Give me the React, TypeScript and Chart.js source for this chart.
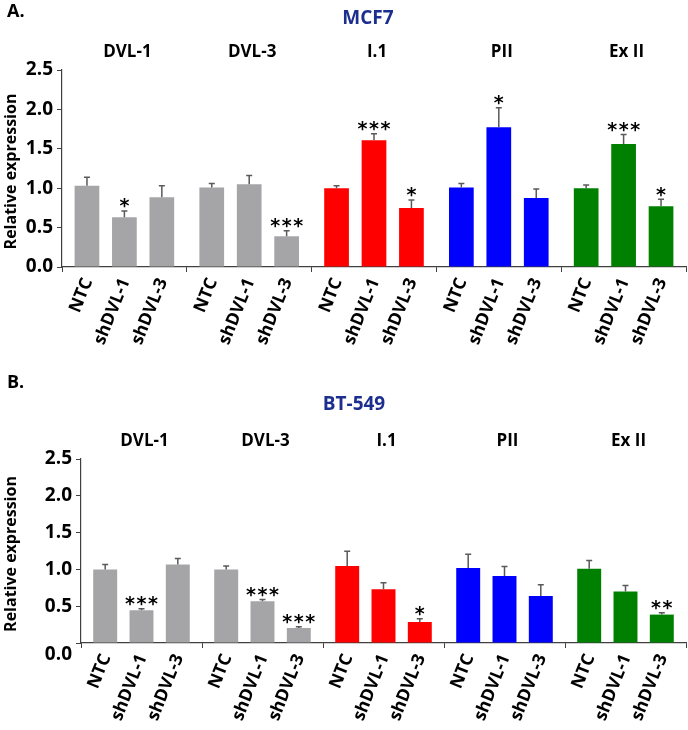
import React, { useEffect, useRef } from 'react';
import { Chart, registerables } from 'chart.js';

Chart.register(...registerables);

// ---------- data ----------
const groups = ['DVL-1', 'DVL-3', 'I.1', 'PII', 'Ex II'];
const conditions = ['NTC', 'shDVL-1', 'shDVL-3'];
const groupColors = ['#a5a5a8', '#a5a5a8', '#ff0000', '#0000ff', '#008000'];
const yTicks = [0, 0.5, 1.0, 1.5, 2.0, 2.5];

// MCF7
const mcf7NTC = [1.03, 1.01, 1.0, 1.01, 1.0];
const mcf7Sh1 = [0.63, 1.05, 1.61, 1.775, 1.56];
const mcf7Sh3 = [0.885, 0.39, 0.75, 0.877, 0.77];
const mcf7NTCErr = [0.11, 0.05, 0.03, 0.05, 0.04];
const mcf7Sh1Err = [0.08, 0.11, 0.08, 0.245, 0.12];
const mcf7Sh3Err = [0.145, 0.07, 0.1, 0.113, 0.09];
const mcf7NTCSig = ['', '', '', '', ''];
const mcf7Sh1Sig = ['*', '', '***', '*', '***'];
const mcf7Sh3Sig = ['', '***', '*', '', '*'];

// BT-549
const btNTC = [1.0, 1.0, 1.045, 1.02, 1.01];
const btSh1 = [0.445, 0.567, 0.73, 0.91, 0.7];
const btSh3 = [1.065, 0.204, 0.285, 0.64, 0.386];
const btNTCErr = [0.065, 0.045, 0.2, 0.185, 0.11];
const btSh1Err = [0.022, 0.023, 0.09, 0.13, 0.08];
const btSh3Err = [0.082, 0.016, 0.045, 0.15, 0.025];
const btNTCSig = ['', '', '', '', ''];
const btSh1Sig = ['***', '***', '', '', ''];
const btSh3Sig = ['', '***', '*', '', '**'];

// ---------- layout ----------
const W = 688;
const H = 365;
const FONT = '"Open Sans", Lato, sans-serif';
const STAR_FONT = '"DejaVu Sans", sans-serif';

type Panel = {
  letter: string;
  title: string;
  titleX: number;
  titleY: number;
  letterY: number;
  groupY: number;
  top: number;
  bottom: number;
  left: number;
  zeroOffset: number;
  values: number[][];
  errs: number[][];
  sigs: string[][];
};

const panelA: Panel = {
  letter: 'A.',
  title: 'MCF7',
  titleX: 368,
  titleY: 19,
  letterY: 12,
  groupY: 52,
  top: 70,
  bottom: 267,
  left: 62,
  zeroOffset: 0,
  values: [mcf7NTC, mcf7Sh1, mcf7Sh3],
  errs: [mcf7NTCErr, mcf7Sh1Err, mcf7Sh3Err],
  sigs: [mcf7NTCSig, mcf7Sh1Sig, mcf7Sh3Sig],
};

const panelB: Panel = {
  letter: 'B.',
  title: 'BT-549',
  titleX: 354,
  titleY: 40,
  letterY: 18,
  groupY: 76,
  top: 94,
  bottom: 278,
  left: 81,
  zeroOffset: 12,
  values: [btNTC, btSh1, btSh3],
  errs: [btNTCErr, btSh1Err, btSh3Err],
  sigs: [btNTCSig, btSh1Sig, btSh3Sig],
};

function makePlugin(P: Panel) {
  return {
    id: 'decor',
    afterDatasetsDraw(chart: any) {
      const ctx = chart.ctx as CanvasRenderingContext2D;
      const yScale = chart.scales.y;
      const xScale = chart.scales.x;
      const area = chart.chartArea;
      ctx.save();
      for (let i = 0; i < P.values.length; i++) {
        const meta = chart.getDatasetMeta(i);
        meta.data.forEach((bar: any, j: number) => {
          const v = P.values[i][j];
          const e = P.errs[i][j];
          const yTop = yScale.getPixelForValue(v + e);
          ctx.strokeStyle = '#5a5a5a';
          ctx.lineWidth = 1.5;
          ctx.beginPath();
          ctx.moveTo(bar.x, bar.y);
          ctx.lineTo(bar.x, yTop);
          ctx.moveTo(bar.x - 3, yTop);
          ctx.lineTo(bar.x + 3, yTop);
          ctx.stroke();
          const s = P.sigs[i][j];
          if (s) {
            ctx.fillStyle = '#000';
            ctx.font = `bold 19px ${STAR_FONT}`;
            ctx.textAlign = 'center';
            ctx.textBaseline = 'alphabetic';
            const pitch = 11.5;
            const start = bar.x - ((s.length - 1) * pitch) / 2;
            for (let k = 0; k < s.length; k++) {
              ctx.fillText('*', start + k * pitch, yTop - 10 + 0.6 * 19);
            }
          }
          ctx.save();
          ctx.translate(bar.x + 1, area.bottom + 12);
          ctx.rotate((-68 * Math.PI) / 180);
          ctx.fillStyle = '#000';
          ctx.font = `bold 17.5px ${FONT}`;
          ctx.textAlign = 'right';
          ctx.textBaseline = 'middle';
          ctx.fillText(conditions[i], 0, 0);
          ctx.restore();
        });
      }
      ctx.fillStyle = '#000';
      ctx.font = `bold 17px ${FONT}`;
      ctx.textAlign = 'center';
      ctx.textBaseline = 'middle';
      groups.forEach((g, j) => {
        ctx.fillText(g, xScale.getPixelForValue(j) + 3, P.groupY);
      });
      ctx.textAlign = 'left';
      ctx.font = `bold 18px ${FONT}`;
      ctx.fillText(P.letter, 7, P.letterY);
      ctx.textAlign = 'center';
      ctx.fillStyle = '#1c2f8f';
      ctx.font = `bold 19px ${FONT}`;
      ctx.fillText(P.title, P.titleX, P.titleY);
      ctx.save();
      ctx.translate(11, (area.top + area.bottom) / 2 + 3);
      ctx.rotate(-Math.PI / 2);
      ctx.fillStyle = '#000';
      ctx.font = `bold 16px ${FONT}`;
      ctx.textAlign = 'center';
      ctx.textBaseline = 'middle';
      ctx.fillText('Relative expression', 0, 0);
      ctx.restore();
      if (P.zeroOffset) {
        ctx.fillStyle = '#000';
        ctx.font = `bold 19px ${FONT}`;
        ctx.textAlign = 'right';
        ctx.textBaseline = 'middle';
        ctx.fillText('0.0', yScale.right - 9, area.bottom + P.zeroOffset);
      }
      ctx.restore();
    },
  };
}

function PanelChart({ P }: { P: Panel }) {
  const ref = useRef<HTMLCanvasElement>(null);
  useEffect(() => {
    if (!ref.current) return;
    const chart = new Chart(ref.current, {
      type: 'bar',
      data: {
        labels: groups,
        datasets: conditions.map((c, i) => ({
          label: c,
          data: P.values[i],
          backgroundColor: groupColors,
          borderWidth: 0,
          categoryPercentage: 0.9,
          barPercentage: 0.66,
        })),
      },
      options: {
        responsive: false,
        animation: false,
        events: [],
        layout: { padding: { top: P.top, right: 2, left: 0, bottom: 0 } },
        plugins: { legend: { display: false }, tooltip: { enabled: false }, title: { display: false } },
        scales: {
          x: {
            type: 'category',
            offset: true,
            grid: { offset: true, drawOnChartArea: false, drawTicks: true, tickLength: 5, color: '#404040', lineWidth: 1 },
            border: { color: '#404040', width: 1.2 },
            ticks: { display: false },
            afterFit: (s: any) => {
              s.height = H - P.bottom;
            },
          },
          y: {
            min: 0,
            max: 2.5,
            afterBuildTicks: (s: any) => {
              s.ticks = yTicks.map((v) => ({ value: v }));
            },
            grid: { drawOnChartArea: false, drawTicks: true, tickLength: 5, color: '#404040', lineWidth: 1 },
            border: { color: '#404040', width: 1.2 },
            ticks: {
              color: '#000',
              padding: 4,
              font: { family: FONT, weight: 'bold', size: 19 },
              callback: (v: any) => (P.zeroOffset && Number(v) === 0 ? '' : Number(v).toFixed(1)),
            },
            afterFit: (s: any) => {
              s.width = P.left;
            },
          },
        },
      },
      plugins: [makePlugin(P)],
    } as any);
    return () => chart.destroy();
  }, [P]);
  return <canvas ref={ref} width={W} height={H} style={{ display: 'block', width: W, height: H }} />;
}

export default function App() {
  return (
    <div style={{ position: 'absolute', left: 0, top: 0, width: W, height: 2 * H, background: '#fff' }}>
      <PanelChart P={panelA} />
      <PanelChart P={panelB} />
    </div>
  );
}
